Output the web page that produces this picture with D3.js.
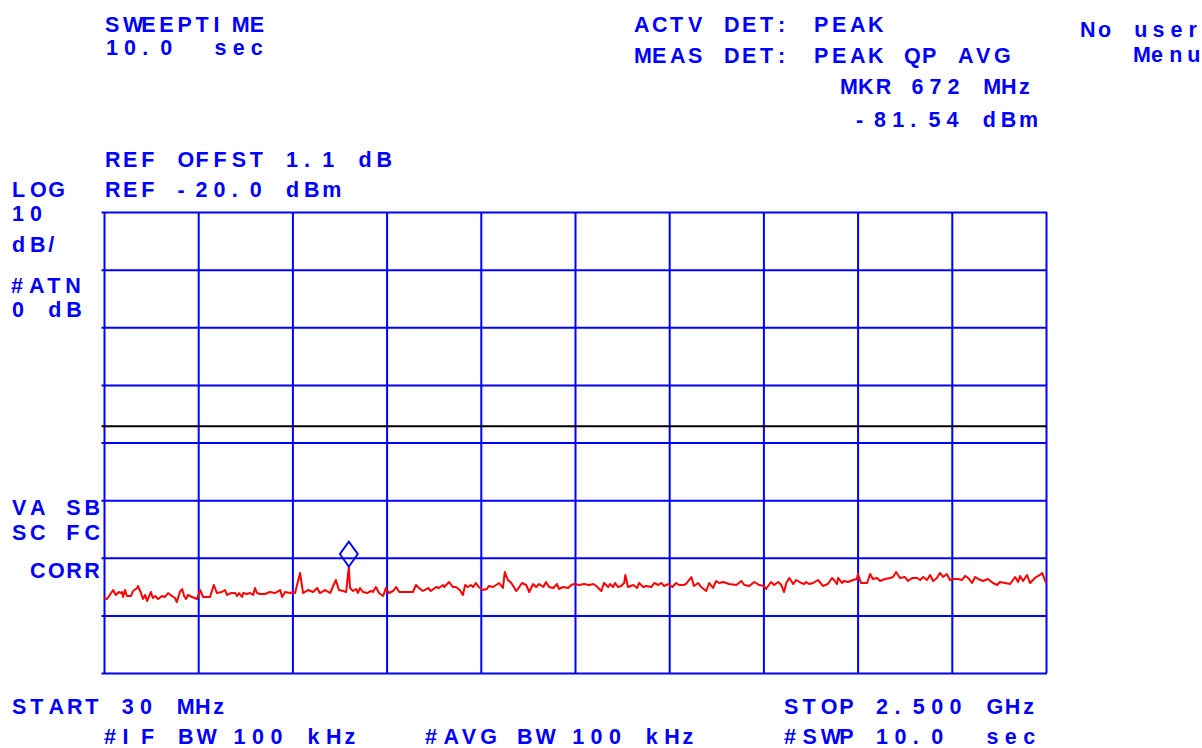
<!DOCTYPE html>
<html><head><meta charset="utf-8">
<script src="https://cdn.jsdelivr.net/npm/d3@7"></script>
<style>
html,body{margin:0;padding:0;background:#fff;overflow:hidden}
svg{display:block;background:#fff}
text.ann{font-family:"Liberation Sans",Arial,sans-serif;font-weight:bold;font-size:21.5px;fill:#0000ff;white-space:pre}
</style></head><body>
<svg id="c" width="1202" height="748"></svg>
<script>
// ---- data ----
const startMHz = 30, stopMHz = 2500;
const refLevelDbm = -20, dbPerDiv = 10, vDivs = 8, hDivs = 10;
const markerMHz = 672, markerDbm = -81.54;
const displayLineDbm = -57.2;

const freqMHz = [30,38,54,61,69,75,77,80,85,90,101,106,117,119,127,132,138,143,153,158,164,172,182,190,198,208,216,221,229,235,240,245,250,261,274,282,290,308,318,326,339,347,353,363,374,379,384,392,395,405,413,421,426,431,439,452,465,478,492,497,505,518,526,531,544,552,565,578,589,596,610,623,638,646,657,665,672,675,683,691,696,701,709,720,730,735,743,751,762,769,777,788,796,804,814,830,840,848,856,866,880,887,901,908,919,922,935,945,953,963,971,977,984,992,998,1005,1013,1024,1034,1039,1050,1058,1066,1076,1081,1089,1098,1111,1119,1126,1137,1145,1155,1163,1171,1182,1189,1197,1208,1218,1223,1234,1247,1255,1263,1276,1289,1302,1313,1321,1334,1341,1352,1357,1365,1370,1378,1386,1394,1397,1404,1418,1428,1433,1444,1452,1465,1473,1483,1491,1499,1509,1520,1530,1538,1549,1556,1570,1577,1588,1596,1609,1617,1627,1635,1643,1654,1669,1688,1701,1709,1722,1735,1748,1761,1766,1779,1787,1798,1806,1813,1819,1827,1837,1845,1858,1866,1871,1879,1889,1902,1915,1928,1939,1944,1952,1955,1965,1970,1981,1994,2004,2007,2015,2031,2039,2046,2057,2065,2078,2091,2099,2107,2117,2130,2138,2149,2162,2170,2178,2188,2196,2204,2214,2222,2230,2240,2248,2256,2269,2280,2288,2296,2306,2314,2322,2335,2348,2361,2372,2379,2393,2406,2419,2427,2432,2440,2450,2458,2471,2484,2490,2500];

const levelDbm = [-86.93,-87.16,-85.60,-86.46,-85.94,-86.12,-85.94,-86.81,-85.60,-86.64,-86.64,-85.77,-85.25,-84.90,-86.12,-87.16,-86.46,-87.51,-85.94,-86.99,-86.64,-87.16,-86.64,-86.81,-86.12,-86.64,-86.99,-87.68,-85.94,-85.42,-86.64,-87.16,-86.46,-86.81,-87.16,-85.60,-86.81,-86.81,-84.73,-86.12,-85.94,-85.60,-86.46,-86.12,-86.12,-86.64,-86.12,-86.81,-86.12,-86.29,-86.12,-86.46,-85.25,-86.12,-86.29,-86.29,-85.94,-86.12,-85.60,-86.81,-85.94,-86.12,-85.94,-86.12,-82.64,-86.12,-85.60,-85.94,-85.25,-86.12,-85.60,-86.12,-83.86,-85.60,-85.77,-85.94,-81.54,-85.25,-85.77,-85.42,-86.12,-85.25,-85.94,-86.12,-85.77,-85.94,-85.08,-86.12,-86.64,-85.25,-86.12,-85.77,-85.08,-85.94,-85.94,-85.94,-85.94,-84.73,-85.25,-85.77,-85.25,-85.77,-85.08,-85.25,-84.73,-85.08,-84.21,-85.08,-85.08,-85.60,-86.46,-84.73,-85.08,-84.73,-85.08,-84.38,-85.08,-85.60,-85.42,-84.90,-85.08,-84.73,-84.38,-85.25,-82.47,-83.86,-84.38,-85.77,-85.08,-84.38,-84.73,-85.94,-84.56,-85.08,-84.56,-85.08,-84.21,-85.08,-85.25,-84.56,-85.42,-85.08,-85.25,-84.73,-84.56,-84.73,-84.56,-84.73,-84.56,-84.90,-85.77,-84.38,-85.08,-84.56,-85.08,-84.38,-85.08,-84.90,-84.38,-82.99,-85.08,-84.73,-85.25,-84.38,-85.08,-84.90,-85.08,-84.38,-84.73,-84.38,-84.90,-84.56,-85.08,-84.38,-84.73,-84.73,-84.56,-83.34,-84.90,-84.38,-85.08,-85.77,-84.38,-85.25,-84.03,-84.38,-84.21,-84.56,-84.73,-84.03,-84.73,-84.90,-84.21,-84.73,-84.90,-85.42,-84.21,-84.73,-84.21,-84.73,-85.94,-84.38,-83.51,-84.56,-83.86,-84.38,-84.56,-84.21,-84.56,-84.38,-83.86,-84.90,-84.56,-83.51,-83.86,-84.56,-83.51,-84.38,-84.03,-84.21,-83.86,-83.68,-82.82,-84.38,-84.38,-82.82,-83.68,-83.51,-84.03,-83.68,-83.51,-83.34,-82.47,-83.51,-83.34,-84.03,-83.51,-83.51,-83.86,-83.34,-83.86,-82.99,-84.03,-83.51,-82.64,-83.34,-82.82,-83.86,-83.68,-83.68,-83.86,-83.16,-83.51,-84.38,-83.34,-83.68,-84.03,-83.68,-84.38,-84.73,-84.21,-84.38,-84.56,-83.34,-84.21,-83.16,-84.03,-82.99,-84.38,-83.51,-82.99,-82.64,-84.38];

const freqTicks = d3.range(hDivs + 1).map(i => startMHz + i * (stopMHz - startMHz) / hDivs);
const levelTicks = d3.range(vDivs + 1).map(i => refLevelDbm - i * dbPerDiv);

const annotations = [
  "SWEEPTIME", "10.0  sec",
  "ACTV DET: PEAK", "MEAS DET: PEAK QP AVG", "MKR 672 MHz", "-81.54 dBm",
  "No user", "Menu",
  "REF OFFST 1.1 dB", "LOG", "REF -20.0 dBm",
  "10", "dB/", "#ATN", "0 dB",
  "VA SB", "SC FC", "CORR",
  "START 30 MHz", "#IF BW 100 kHz", "#AVG BW 100 kHz",
  "STOP 2.500 GHz", "#SWP 10.0  sec"
];

// ---- layout ----
const plot = {left:104, right:1046, top:212, bottom:673};
const annPos = [
  [105,31.5,18.1],[106,55,18.1],
  [634,31.5,18.0],[634,62.5,18.0],[840,94,17.9],[856,126.5,18.1],
  [1080,36.5,18.1],[1133,61.5,18.1],
  [105,166.5,18.1],[12,197,18.1],[105,197,18.1],
  [12,220.5,18.1],[12,252,18.1],[11,292.5,18.1],[12,316.5,18.1],
  [12,515,18.1],[12,539.5,18.1],[30,578,18.1],
  [12,713.5,18.3],[104,743.5,18.5],[425,743.5,18.4],
  [784,713.5,18.4],[784,743.5,18.4]
];

const svg = d3.select("#c");
const x = d3.scaleLinear().domain([startMHz, stopMHz]).range([plot.left, plot.right]);
const y = d3.scaleLinear().domain([refLevelDbm, refLevelDbm - vDivs * dbPerDiv]).range([plot.top, plot.bottom]);

// grid via axes
const gx = svg.append("g").attr("transform", `translate(0,${plot.bottom})`)
  .call(d3.axisBottom(x).tickValues(freqTicks).tickSize(-(plot.bottom - plot.top)).tickFormat(""));
const gy = svg.append("g").attr("transform", `translate(${plot.left - 2.5},0)`)
  .call(d3.axisLeft(y).tickValues(levelTicks).tickSize(-(plot.right - plot.left + 3.5)).tickFormat(""));
[gx, gy].forEach(g => {
  g.select(".domain").remove();
  g.selectAll(".tick line").attr("stroke", "#0000ff").attr("stroke-width", 2);
});

// display line
svg.append("line")
  .attr("x1", plot.left - 2.5).attr("x2", plot.right + 1)
  .attr("y1", y(displayLineDbm)).attr("y2", y(displayLineDbm))
  .attr("stroke", "#000").attr("stroke-width", 2);

// trace
const pts = freqMHz.map((f, i) => [f, levelDbm[i]]);
svg.append("path").datum(pts)
  .attr("fill", "none").attr("stroke", "#ff0000").attr("stroke-width", 2)
  .attr("stroke-linejoin", "round")
  .attr("d", d3.line().x(d => x(d[0])).y(d => y(d[1])));

// marker diamond
const mx = x(markerMHz), my = y(markerDbm);
svg.append("path")
  .attr("d", `M${mx},${my} L${mx + 9},${my - 12.5} L${mx},${my - 25} L${mx - 9},${my - 12.5} Z`)
  .attr("fill", "none").attr("stroke", "#0000ff").attr("stroke-width", 1.8);

// annotations
svg.selectAll("text.ann").data(annotations).join("text")
  .attr("class", "ann")
  .attr("x", (s, i) => Array.from(s).map((c, k) => (annPos[i][0] + k * annPos[i][2]).toFixed(1)).join(" "))
  .attr("y", (s, i) => annPos[i][1])
  .text(s => s);
</script>
</body></html>
